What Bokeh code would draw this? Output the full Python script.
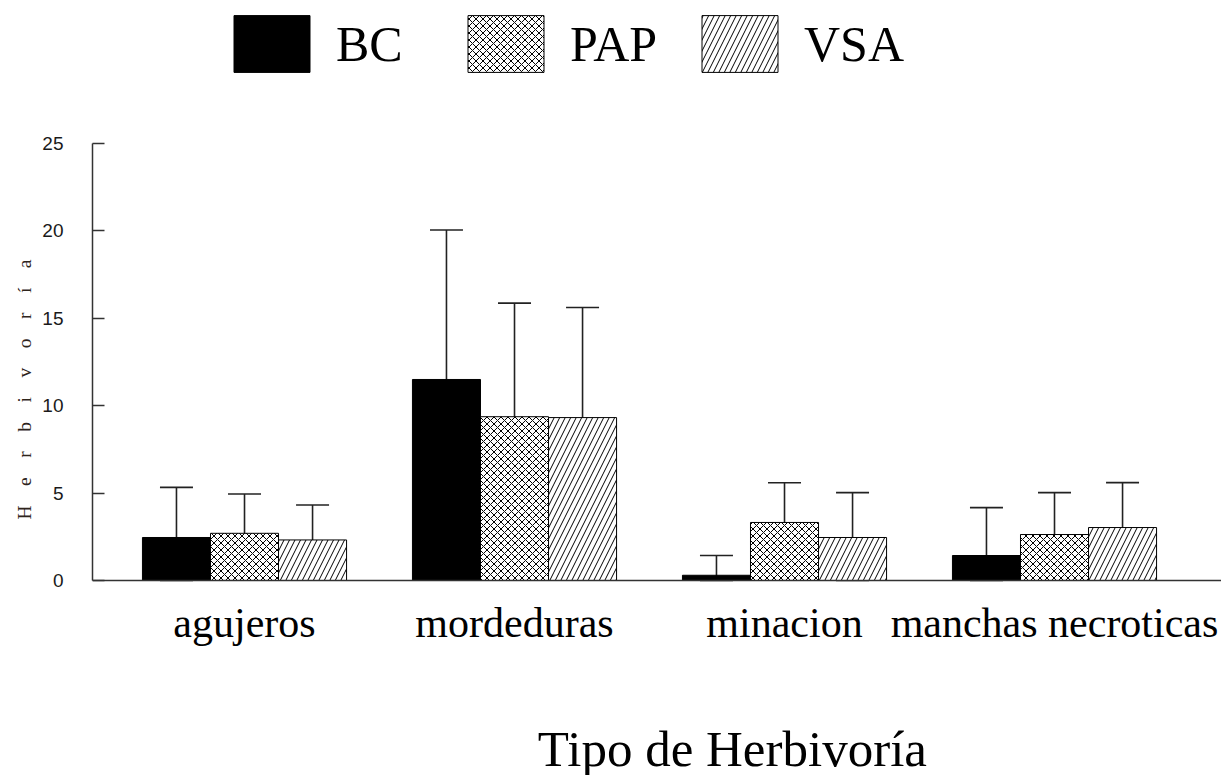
from bokeh.plotting import figure
from bokeh.models import (ColumnDataSource, Whisker, TeeHead, Legend, LegendItem,
                          FixedTicker, Title, Range1d, Label)
from bokeh.transform import dodge
from bokeh.embed import file_html
from bokeh.resources import INLINE

# ---- data ----
categories = ["agujeros", "mordeduras", "minacion", "manchas necroticas"]
series = ["BC", "PAP", "VSA"]
BC = [2.46, 11.5, 0.30, 1.43]
BC_err = [2.87, 8.55, 1.13, 2.74]
PAP = [2.70, 9.37, 3.32, 2.63]
PAP_err = [2.25, 6.50, 2.27, 2.40]
VSA = [2.32, 9.32, 2.46, 3.03]
VSA_err = [2.00, 6.30, 2.57, 2.57]
y_ticks = [0, 5, 10, 15, 20, 25]

idx = list(range(len(categories)))
data = {"x": idx, "BC": BC, "PAP": PAP, "VSA": VSA}
for name, vals, errs in (("BC", BC, BC_err), ("PAP", PAP, PAP_err), ("VSA", VSA, VSA_err)):
    data[name + "_up"] = [v + e for v, e in zip(vals, errs)]
    data[name + "_lo"] = [max(v - e, 0) for v, e in zip(vals, errs)]
src = ColumnDataSource(data)

SERIF = "Liberation Serif"
SANS = "Liberation Sans"

W, H = 1221, 775
# frame covers the whole canvas height; the axes are bounded / fixed at y = 0
ppu = 437 / 25.0
y_lo, y_hi = -(H - 580) / ppu, 580 / ppu
p = figure(width=W, height=H, output_backend="svg", toolbar_location=None,
           x_range=Range1d(-0.563, 3.6185), y_range=Range1d(y_lo, y_hi),
           min_border_left=92, min_border_right=0, min_border_top=0,
           min_border_bottom=0)
p.xgrid.visible = False
p.ygrid.visible = False
p.outline_line_color = None
p.background_fill_color = "white"

bw = 0.252
offsets = [-bw, 0.0, bw]
styles = [
    dict(fill_color="black"),
    dict(fill_color="white", hatch_pattern="x", hatch_scale=7, hatch_color="black", hatch_weight=1),
    dict(fill_color="white", hatch_pattern="/", hatch_scale=11, hatch_color="black", hatch_weight=1),
]
renderers = []
for name, off, st in zip(series, offsets, styles):
    r = p.vbar(x=dodge("x", off, range=p.x_range), top=name, width=bw, bottom=0,
               source=src, line_color="black", line_width=1, **st)
    renderers.append(r)

for name, off in zip(series, offsets):
    w = Whisker(source=src, base=dodge("x", off, range=p.x_range), upper=name + "_up",
                lower=name + "_lo", dimension="height", line_color="#222222", line_width=1.6,
                upper_head=TeeHead(size=33, line_color="#222222", line_width=1.6),
                lower_head=TeeHead(size=33, line_color="#222222", line_width=1.6))
    p.add_layout(w)

# legend at the top of the frame
leg = Legend(items=[LegendItem(label=n, renderers=[r]) for n, r in zip(series, renderers)],
             location=(132, 696), orientation="horizontal", glyph_width=95, glyph_height=71,
             label_height=71, label_width=100, label_text_font=SERIF,
             label_text_font_size="50px", label_text_color="black", label_standoff=17,
             padding=0, margin=0, spacing=22, border_line_color=None,
             background_fill_alpha=0)
p.add_layout(leg, "center")

# y axis
p.yaxis.bounds = (0, 25)
p.yaxis.ticker = FixedTicker(ticks=y_ticks)
p.yaxis.major_tick_in = 12
p.yaxis.major_tick_out = 0
p.yaxis.minor_tick_in = 0
p.yaxis.minor_tick_out = 0
p.yaxis.major_label_standoff = 29
p.yaxis.major_label_text_font = SANS
p.yaxis.major_label_text_font_size = "19px"
p.yaxis.major_label_text_color = "#1a1a1a"
p.yaxis.axis_line_color = "#333333"
p.yaxis.axis_line_width = 1.5
p.yaxis.major_tick_line_color = "#333333"
p.yaxis.major_tick_line_width = 1.5

# x axis, drawn at y = 0
p.xaxis.fixed_location = 0
p.xaxis.ticker = FixedTicker(ticks=idx)
p.xaxis.major_label_overrides = {i: c for i, c in zip(idx, categories)}
p.xaxis.major_tick_in = 0
p.xaxis.major_tick_out = 0
p.xaxis.minor_tick_in = 0
p.xaxis.minor_tick_out = 0
p.xaxis.major_label_standoff = 19
p.xaxis.major_label_text_font = SERIF
p.xaxis.major_label_text_font_size = "42px"
p.xaxis.major_label_text_color = "black"
p.xaxis.axis_line_color = "#333333"
p.xaxis.axis_line_width = 1.5

EM = "\u2003"
ty = Title(text=EM.join("Herbivoría"), align="left", offset=256, text_font=SERIF,
           text_font_size="19.5px", text_font_style="normal", text_color="#2e241c")
p.add_layout(ty, "left")

xt = Label(x=1.807, y=-168 / ppu, text="Tipo de Herbivoría", text_align="center",
           text_baseline="alphabetic", text_font=SERIF, text_font_size="51px",
           text_color="black")
p.add_layout(xt)

open("out.html", "w").write(file_html(p, INLINE))
